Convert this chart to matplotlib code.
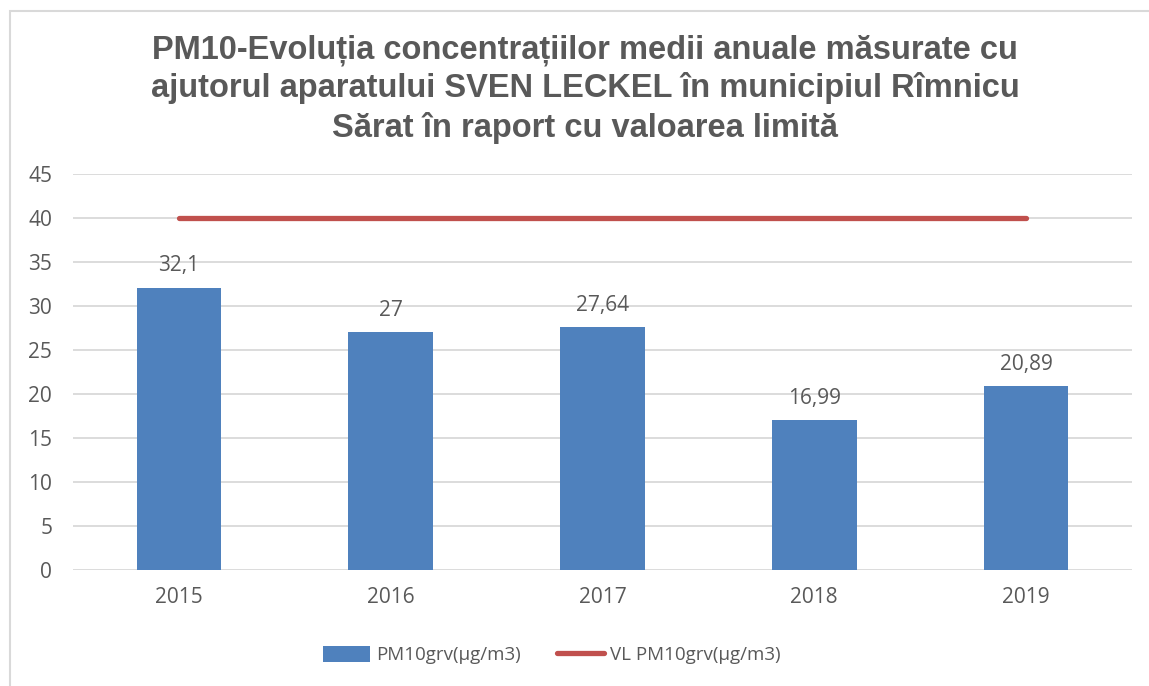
import matplotlib.pyplot as plt
from matplotlib.patches import Rectangle

years = ["2015", "2016", "2017", "2018", "2019"]
pm10 = [32.1, 27, 27.64, 16.99, 20.89]
limit = [40, 40, 40, 40, 40]
value_labels = ["32,1", "27", "27,64", "16,99", "20,89"]

title = ("PM10-Evoluția concentrațiilor medii anuale măsurate cu\n"
         "ajutorul aparatului SVEN LECKEL în municipiul Rîmnicu\n"
         "Sărat în raport cu valoarea limită")

text_col = "#595959"
grid_col = "#D9D9D9"

plt.rcParams["font.family"] = ["Open Sans", "DejaVu Sans"]

fig = plt.figure(figsize=(11.49, 6.86), dpi=100)
ax = fig.add_axes([73 / 1149, 1 - 570 / 686, (1132 - 73) / 1149, (570 - 174) / 686])

x = range(len(years))
bars = ax.bar(x, pm10, width=0.4, color="#4F81BD", zorder=2, label="PM10grv(µg/m3)")
line, = ax.plot(x, limit, color="#C0504D", lw=3.8, solid_capstyle="round", zorder=3,
                label="VL PM10grv(µg/m3)")

for xi, v, lab in zip(x, pm10, value_labels):
    ax.annotate(lab, (xi, v), xytext=(0, 8), textcoords="offset points",
                ha="center", va="bottom", fontsize=15, color=text_col)

ax.set_xlim(-0.5, 4.5)
ax.set_ylim(0, 45)
ax.set_yticks(range(0, 50, 5))
ax.set_xticks(list(x))
ax.set_xticklabels(years)
ax.tick_params(length=0, labelsize=15, labelcolor=text_col)
ax.tick_params(axis="y", pad=15)
ax.tick_params(axis="x", pad=12)
ax.yaxis.grid(True, color=grid_col, lw=1.3, zorder=0)
for s in ax.spines.values():
    s.set_visible(False)

fig.text(585 / 1149, 1 - 34 / 686, title, ha="center", va="top", fontsize=23.5,
         fontweight="bold", color=text_col, family="Liberation Sans", linespacing=1.28)

fig.legend([bars, line], ["PM10grv(µg/m3)", "VL PM10grv(µg/m3)"],
           loc="center", bbox_to_anchor=(552 / 1149, 1 - 655 / 686), ncol=2,
           frameon=False, fontsize=13.5, labelcolor=text_col, handlelength=2.5,
           handleheight=0.95, columnspacing=1.9, handletextpad=0.35)

fig.patches.append(Rectangle((10 / 1149, -0.05), 1.2, 1 - 11 / 686 + 0.05,
                             transform=fig.transFigure, fill=False,
                             edgecolor=grid_col, lw=1.5))

fig.savefig("out.png", dpi=100)
